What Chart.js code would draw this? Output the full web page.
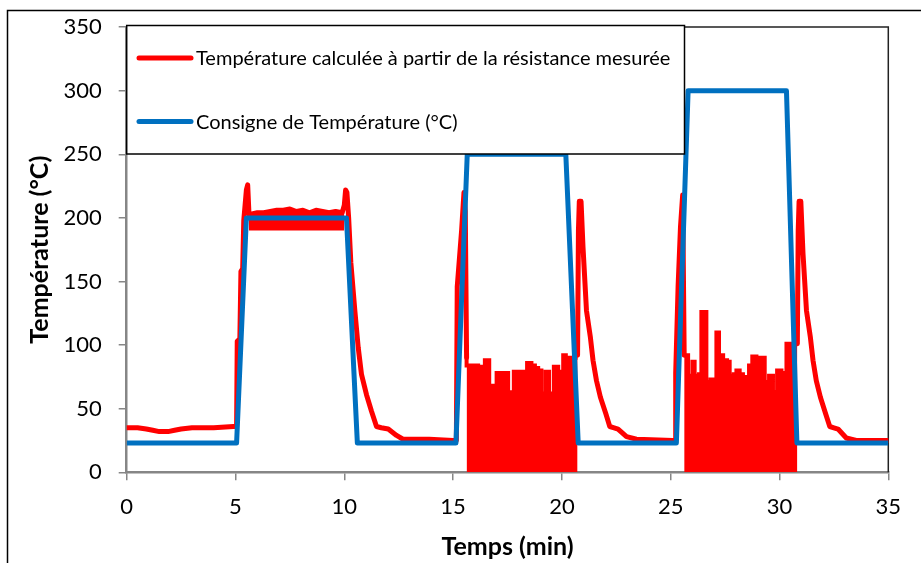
<!DOCTYPE html>
<html>
<head>
<meta charset="utf-8">
<script src="https://cdn.jsdelivr.net/npm/chart.js@4.4.0/dist/chart.umd.min.js"></script>
<style>
  html, body { margin: 0; padding: 0; background: #fff; }
</style>
</head>
<body>
<canvas id="tempChart" width="921" height="563"></canvas>
<script>
// measured temperature (red trace), null = noisy blocks drawn separately
const redTimes = [0, 0.5, 0.9, 1.2, 1.5, 1.9, 2.2, 2.5, 3.0, 4.0, 4.9, 5.05, 5.08, 5.2, 5.25, 5.33, 5.38, 5.5, 5.56, 5.62,
  5.7, 6.0, 6.3, 6.6, 6.9, 7.2, 7.5, 7.8, 8.1, 8.4, 8.7, 9.0, 9.3, 9.6, 9.9,
  10.0, 10.06, 10.12, 10.2, 10.3, 10.49, 10.64, 10.79, 11.02, 11.25, 11.48, 11.7, 12.02, 12.4, 12.7, 13.9, 15.0, 15.15, 15.19, 15.39, 15.5, 15.56, 15.62,
  18.0,
  20.72, 20.76, 20.8, 20.88, 20.97, 21.13, 21.31, 21.43, 21.59, 21.77, 22.02, 22.2, 22.4, 22.58, 22.97, 23.43, 25.1, 25.2, 25.23, 25.34, 25.45, 25.55, 25.62,
  28.0,
  30.82, 30.86, 30.9, 30.98, 31.08, 31.24, 31.42, 31.54, 31.69, 31.88, 32.12, 32.31, 32.5, 32.69, 33.07, 33.53, 35];
const redTemps = [35, 35, 34, 33, 32, 32, 33, 34, 35, 35, 36, 36, 103, 105, 158, 160, 198, 222, 226, 203,
  203, 204, 204, 205, 206, 206, 207, 205, 206, 204, 206, 205, 204, 205, 204,
  210, 222, 220, 200, 165, 126, 98, 77, 61, 48, 36, 35, 34, 29, 26, 26, 25, 25, 146, 190, 220, 205, 90,
  null,
  92, 190, 213, 213, 177, 127, 106, 88, 72, 59, 46, 36, 35, 34, 28, 26, 25, 25, 78, 146, 193, 218, 92,
  null,
  101, 190, 213, 213, 172, 127, 106, 88, 72, 59, 46, 36, 35, 34, 27, 25, 25];

// lower edge of the noise band on the 200 °C plateau
const bandLow = 190;
const bandStart = 5.62;
const bandEnd = 10.0;

// noisy blocks (0 up to this envelope) on the 250 and 300 °C plateaus
const noise1Times = [15.62, 16.0, 16.15, 16.31, 16.46, 16.66, 16.84, 17.0, 17.53, 17.79, 18.4, 18.6, 18.76, 18.91, 19.06, 19.25, 19.41, 19.63, 19.83, 20.06, 20.18, 20.36, 20.72];
const noise1Temps = [90, 84, 84, 71, 83, 88, 68, 63, 78, 63, 79, 86, 84, 82, 80, 62, 79, 62, 83, 79, 92, 90, 90];
const noise2Times = [25.62, 25.8, 26.0, 26.1, 26.3, 26.41, 26.64, 26.83, 26.95, 27.1, 27.22, 27.41, 27.59, 27.71, 27.9, 28.02, 28.17, 28.32, 28.48, 28.6, 28.75, 28.94, 29.12, 29.32, 29.52, 29.7, 29.89, 30.09, 30.32, 30.44, 30.65, 30.82];
const noise2Temps = [92, 92, 76, 87, 76, 77, 126, 71, 73, 64, 110, 92, 88, 87, 76, 77, 80, 77, 75, 62, 84, 91, 89, 90, 71, 76, 63, 80, 78, 101, 101, 101];

// setpoint (blue)
const setTimes = [0, 5.05, 5.5, 10.1, 10.6, 15.13, 15.65, 20.18, 20.75, 25.26, 25.8, 30.32, 30.8, 35];
const setTemps = [23, 23, 200, 200, 23, 23, 250, 250, 23, 23, 300, 300, 23, 23];

const xTicks = [0, 5, 10, 15, 20, 25, 30, 35];
const yTicks = [0, 50, 100, 150, 200, 250, 300, 350];

const RED = '#FF0000';
const BLUE = '#0070C0';
const AXIS_GREY = '#868686';

const toPoints = (xs, ys) => xs.map((x, i) => ({ x: x, y: ys[i] }));
const redPoints = toPoints(redTimes, redTemps);
const bandPoints = redPoints.filter(p => p.x >= bandStart && p.x <= bandEnd);

const frame = {
  id: 'frame',
  beforeDraw(chart) {
    const ctx = chart.ctx;
    ctx.save();
    ctx.fillStyle = '#fff';
    ctx.fillRect(0, 0, chart.width, chart.height);
    ctx.strokeStyle = '#000';
    ctx.lineWidth = 1.5;
    ctx.strokeRect(7.5, 10.5, chart.width + 20, chart.height + 20);
    ctx.restore();
  },
  beforeDatasetsDraw(chart) {
    const ctx = chart.ctx, a = chart.chartArea;
    ctx.save();
    ctx.strokeStyle = '#222';
    ctx.lineWidth = 1.5;
    ctx.beginPath();
    ctx.moveTo(a.left, a.top);
    ctx.lineTo(a.right, a.top);
    ctx.lineTo(a.right, a.bottom);
    ctx.stroke();
    ctx.restore();
  }
};

const legendBox = {
  id: 'legendBox',
  afterDatasetsDraw(chart) {
    const ctx = chart.ctx, a = chart.chartArea;
    const items = chart.data.datasets.filter(d => d.label);
    const left = a.left, top = 25.5, right = 684.5, bottom = 154;
    ctx.save();
    ctx.fillStyle = '#fff';
    ctx.fillRect(left, top, right - left, bottom - top);
    ctx.strokeStyle = '#000';
    ctx.lineWidth = 1.5;
    ctx.strokeRect(left, top, right - left, bottom - top);
    ctx.font = '20px Lato';
    ctx.textBaseline = 'middle';
    ctx.textAlign = 'left';
    items.forEach((d, i) => {
      const y = 58 + i * 63.5;
      ctx.strokeStyle = d.borderColor;
      ctx.lineWidth = 5;
      ctx.lineCap = 'round';
      ctx.beginPath();
      ctx.moveTo(139, y);
      ctx.lineTo(191, y);
      ctx.stroke();
      ctx.fillStyle = '#000';
      ctx.fillText(d.label, 196, y + 1);
    });
    ctx.restore();
  }
};

new Chart(document.getElementById('tempChart'), {
  type: 'line',
  data: {
    datasets: [
      {
        label: 'Température calculée à partir de la résistance mesurée',
        data: redPoints,
        borderColor: RED,
        borderWidth: 5,
        pointRadius: 0,
        spanGaps: false,
        borderJoinStyle: 'round',
        borderCapStyle: 'round',
        order: 2
      },
      {
        label: 'Consigne de Température (°C)',
        data: toPoints(setTimes, setTemps),
        borderColor: BLUE,
        borderWidth: 5,
        pointRadius: 0,
        borderJoinStyle: 'round',
        order: 0
      },
      {
        data: bandPoints,
        borderWidth: 0,
        pointRadius: 0,
        backgroundColor: RED,
        fill: { value: bandLow },
        order: 3
      },
      {
        data: toPoints(noise1Times, noise1Temps),
        stepped: 'after',
        borderColor: RED,
        borderWidth: 4,
        pointRadius: 0,
        backgroundColor: RED,
        fill: 'origin',
        order: 1
      },
      {
        data: toPoints(noise2Times, noise2Temps),
        stepped: 'after',
        borderColor: RED,
        borderWidth: 4,
        pointRadius: 0,
        backgroundColor: RED,
        fill: 'origin',
        order: 1
      }
    ]
  },
  options: {
    responsive: false,
    animation: false,
    layout: { padding: { top: 27.1, right: 32.7, left: 0, bottom: 0 } },
    plugins: { legend: { display: false }, tooltip: { enabled: false } },
    scales: {
      x: {
        type: 'linear',
        min: 0,
        max: 35,
        afterBuildTicks: s => { s.ticks = xTicks.map(v => ({ value: v })); },
        afterFit: s => { s.height = 90.7; },
        ticks: { color: '#000', font: { family: 'Lato', size: 22 }, padding: 13, maxRotation: 0 },
        grid: { drawOnChartArea: false, color: AXIS_GREY, lineWidth: 1.5, tickLength: 8 },
        border: { color: AXIS_GREY, width: 2.5 },
        title: {
          display: true,
          text: 'Temps (min)',
          color: '#000',
          font: { family: 'Lato', size: 25, weight: 'bold' },
          padding: { top: 0, bottom: 1 }
        }
      },
      y: {
        min: 0,
        max: 350,
        afterBuildTicks: s => { s.ticks = yTicks.map(v => ({ value: v })); },
        afterFit: s => { s.width = 126.7; s.paddingTop = 0; s.paddingBottom = 0; },
        ticks: { color: '#000', font: { family: 'Lato', size: 22 }, padding: 17 },
        grid: { drawOnChartArea: false, color: AXIS_GREY, lineWidth: 1.5, tickLength: 8 },
        border: { color: AXIS_GREY, width: 2.5 },
        title: {
          display: true,
          text: 'Température (°C)',
          color: '#000',
          font: { family: 'Lato', size: 25, weight: 'bold' },
          padding: { top: 25, bottom: 0 }
        }
      }
    }
  },
  plugins: [frame, legendBox]
});
</script>
</body>
</html>
